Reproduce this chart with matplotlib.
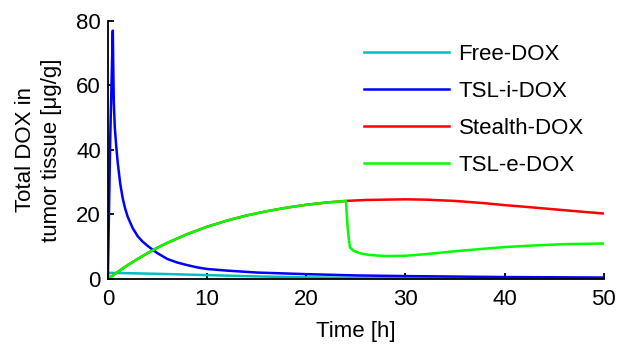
import matplotlib
matplotlib.use('Agg')
import matplotlib.pyplot as plt

plt.rcParams['font.family'] = ['Liberation Sans', 'DejaVu Sans']

# Free-DOX
t_free = [0, 0.05, 2, 5, 10, 15, 20, 30, 40, 50]
free_dox = [0, 1.9, 1.8, 1.6, 1.2, 0.8, 0.5, 0.2, 0.1, 0.05]

# TSL-i-DOX
t_tsli = [0, 0.25, 0.5, 0.55, 0.6, 0.7, 0.85, 1, 1.25, 1.5, 1.75, 2, 2.5, 3, 3.5, 4, 4.5, 5, 6, 7,
          8, 9, 10, 12, 15, 20, 25, 30, 40, 50]
tsli_dox = [0, 45, 77, 65, 55, 47, 41, 36, 29.5, 25, 21.8, 19.3, 15.8, 13.3, 11.6, 10.3, 9.1, 8.0,
            6.2, 5.1, 4.3, 3.6, 3.1, 2.6, 2.0, 1.5, 1.1, 0.9, 0.6, 0.45]

# Stealth-DOX
t_stealth = [0, 1, 2, 3, 4, 5, 6, 8, 10, 12, 14, 16, 18, 20, 22, 24, 26, 28, 30, 32, 35, 38, 40, 42, 45, 48, 50]
stealth_dox = [0, 2.2, 4.3, 6.2, 8.0, 9.7, 11.2, 13.9, 16.2, 18.1, 19.7, 21.0, 22.1, 23.0, 23.7, 24.2,
               24.5, 24.6, 24.7, 24.6, 24.2, 23.5, 22.9, 22.4, 21.6, 20.8, 20.3]

# TSL-e-DOX
t_tsle = [0, 1, 2, 3, 4, 5, 6, 8, 10, 12, 14, 16, 18, 20, 22, 24, 24.2, 24.4, 24.8, 25.5, 26.5, 28,
          30, 32, 35, 38, 40, 43, 46, 50]
tsle_dox = [0, 2.2, 4.3, 6.2, 8.0, 9.7, 11.2, 13.9, 16.2, 18.1, 19.7, 21.0, 22.1, 23.0, 23.7, 24.2,
            15, 9.8, 8.7, 7.9, 7.4, 7.1, 7.2, 7.7, 8.6, 9.4, 9.9, 10.4, 10.8, 11.0]

fig = plt.figure(figsize=(6.27, 3.44), dpi=100)
ax = fig.add_axes([0.172, 0.189, 0.791, 0.750])

lw = 1.8
ax.plot(t_free, free_dox, color='#00BFBF', linewidth=lw, label='Free-DOX')
ax.plot(t_tsli, tsli_dox, color='#0000FF', linewidth=lw, label='TSL-i-DOX')
ax.plot(t_stealth, stealth_dox, color='#FF0000', linewidth=lw, label='Stealth-DOX')
ax.plot(t_tsle, tsle_dox, color='#00FF00', linewidth=lw, label='TSL-e-DOX')

ax.set_xlim(0, 50)
ax.set_ylim(0, 80)
ax.set_xticks([0, 10, 20, 30, 40, 50])
ax.set_yticks([0, 20, 40, 60, 80])
ax.spines['top'].set_visible(False)
ax.spines['right'].set_visible(False)
ax.spines['left'].set_linewidth(1.3)
ax.spines['bottom'].set_linewidth(1.3)
ax.tick_params(direction='in', length=4, width=1.3, labelsize=16)
ax.tick_params(axis='x', pad=7)
ax.tick_params(axis='y', pad=5)

ax.set_xlabel('Time [h]', fontsize=16, labelpad=8)
ax.set_ylabel('Total DOX in\ntumor tissue [μg/g]', fontsize=16, labelpad=10, linespacing=1.3)

ax.legend(loc='upper right', bbox_to_anchor=(1.0, 0.99), frameon=False, fontsize=16,
          handlelength=3.8, labelspacing=0.72, handletextpad=0.45)

plt.savefig('out.png', dpi=100)
